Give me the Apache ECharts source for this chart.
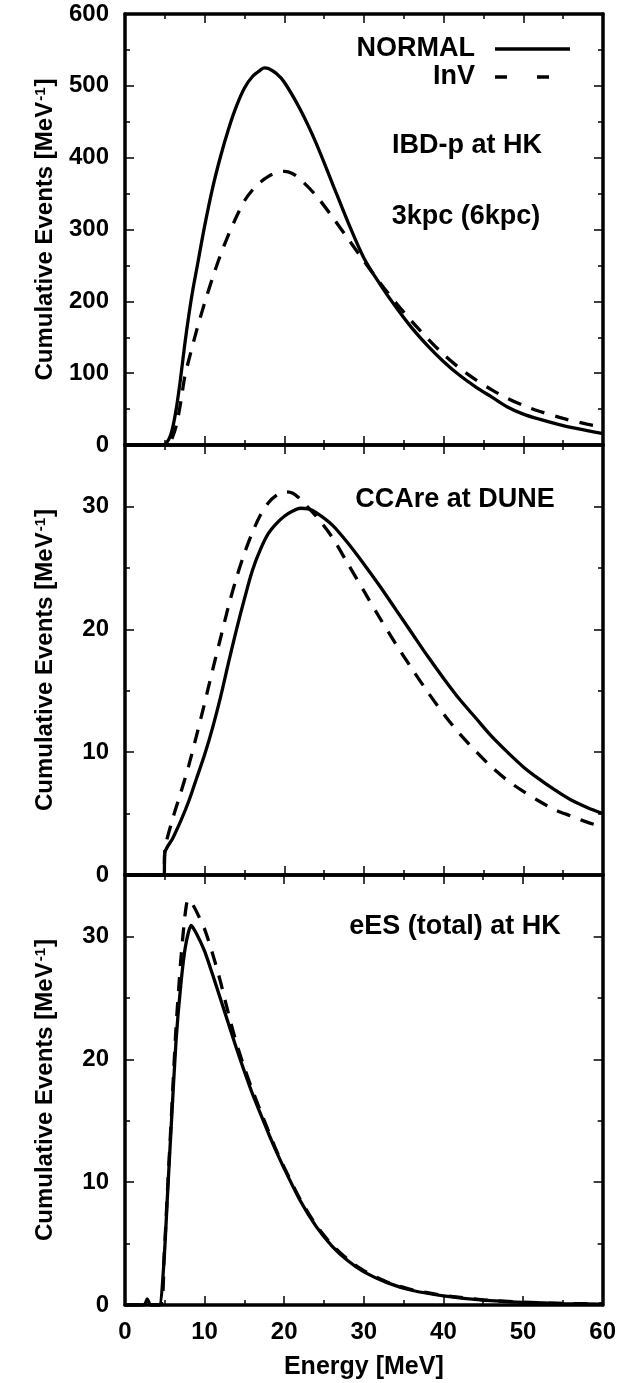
<!DOCTYPE html>
<html><head><meta charset="utf-8">
<script src="https://cdn.jsdelivr.net/npm/echarts@6/dist/echarts.min.js"></script>
<style>html,body{margin:0;padding:0;background:#fff}#c{width:619px;height:1383px}</style>
</head><body><div id="c"></div>
<script>
// ---------- data ----------
const xTicks = [0, 10, 20, 30, 40, 50, 60];

// Panel 1: IBD-p at HK
const ibdNormalE = [0, 4.8, 5.5, 6, 6.5, 7, 7.5, 8, 8.5, 9, 10, 11, 12, 13, 14, 15, 16, 17, 17.5, 18, 19, 20, 22, 24, 26, 28, 30, 32, 34, 36, 38, 40, 42, 44, 46, 48, 50, 52, 55, 58, 60];
const ibdNormalV = [0, 0, 8, 25, 55, 95, 140, 180, 215, 245, 305, 358, 402, 440, 472, 497, 513, 522, 525, 524, 517, 505, 467, 420, 365, 310, 260, 224, 192, 163, 138, 116, 97, 81, 67, 53, 43, 36, 27, 20, 16];
const ibdInvE = [0, 5.3, 6, 6.5, 7, 7.5, 8, 9, 10, 11, 12, 13, 14, 15, 16, 17, 18, 19, 20, 21, 22, 24, 26, 28, 30, 32, 34, 36, 38, 40, 42, 44, 46, 48, 50, 52, 55, 58, 60];
const ibdInvV = [0, 0, 12, 30, 60, 95, 118, 160, 198, 233, 265, 293, 318, 340, 355, 366, 374, 379, 381, 378, 370, 347, 318, 287, 256, 226, 198, 172, 148, 126, 107, 91, 77, 65, 55, 47, 37, 29, 25];

// Panel 2: CCAre at DUNE
const ccNormalE = [0, 4.9, 5.0, 6, 7, 8, 9, 10, 11, 12, 13, 14, 15, 16, 17, 18, 19, 20, 21, 22, 23, 24, 26, 28, 30, 32, 34, 36, 38, 40, 42, 44, 46, 48, 50, 52, 54, 56, 58, 60];
const ccNormalV = [0, 0, 1.8, 3.0, 4.4, 6.0, 7.9, 9.8, 12.0, 14.5, 17.3, 20.0, 22.5, 24.8, 26.5, 27.8, 28.6, 29.2, 29.6, 29.85, 29.8, 29.5, 28.5, 27.0, 25.3, 23.5, 21.6, 19.7, 17.8, 16.0, 14.3, 12.8, 11.3, 10.0, 8.8, 7.8, 6.9, 6.1, 5.5, 5.0];
const ccInvE = [0, 4.9, 5.0, 6, 7, 8, 9, 10, 11, 12, 13, 14, 15, 16, 17, 18, 19, 20, 21, 22, 23, 24, 26, 28, 30, 32, 34, 36, 38, 40, 42, 44, 46, 48, 50, 52, 54, 56, 58, 60];
const ccInvV = [0, 0, 2.0, 4.6, 6.7, 8.9, 11.4, 14.0, 16.7, 19.3, 21.9, 24.2, 26.2, 27.9, 29.3, 30.3, 30.9, 31.2, 31.1, 30.6, 29.9, 29.2, 27.5, 25.3, 23.1, 20.9, 18.8, 16.8, 14.9, 13.1, 11.5, 10.1, 8.8, 7.7, 6.8, 6.0, 5.3, 4.8, 4.3, 3.9];

// Panel 3: eES (total) at HK
const esNormalE = [0, 2.4, 2.8, 3.2, 4.3, 4.9, 5.35, 5.8, 6.4, 7.0, 7.6, 8.3, 9, 10, 11, 12, 13, 14, 15, 16, 17, 18, 19, 20, 22, 24, 26, 28, 30, 33, 36, 40, 45, 50, 55, 60];
const esNormalV = [0, 0, 0.5, 0, 0, 3.6, 9.1, 14.5, 21.4, 26.0, 29.2, 30.9, 30.2, 28.8, 26.9, 24.9, 22.9, 20.9, 19.0, 17.2, 15.6, 14.0, 12.5, 11.1, 8.5, 6.4, 4.8, 3.6, 2.7, 1.8, 1.2, 0.75, 0.4, 0.22, 0.12, 0.07];
const esInvE = [0, 4.4, 4.9, 5.35, 5.8, 6.4, 7.0, 7.5, 7.9, 8.4, 9, 10, 11, 12, 13, 14, 15, 16, 17, 18, 19, 20, 22, 24, 26, 28, 30, 33, 36, 40, 45, 50, 55, 60];
const esInvV = [0, 0, 3.8, 9.5, 15.0, 22.5, 28.0, 31.5, 33.0, 32.7, 32.0, 30.6, 28.6, 26.3, 23.7, 21.3, 19.3, 17.5, 15.8, 14.2, 12.6, 11.2, 8.6, 6.5, 4.9, 3.7, 2.8, 1.85, 1.25, 0.78, 0.42, 0.23, 0.13, 0.08];

const panelLabels = ['IBD-p at HK', '3kpc (6kpc)', 'CCAre at DUNE', 'eES (total) at HK'];
const seriesNames = ['NORMAL', 'InV'];
const yMax = [600, 35, 35];
const yStep = [100, 10, 10];

// ---------- chart ----------
const F = '"Liberation Sans", Arial, Helvetica, sans-serif';
const zip = (e, v) => e.map((x, i) => [x, v[i]]);
const grids = [
  {left: 125, width: 478, top: 14, height: 431},
  {left: 125, width: 478, top: 445, height: 430},
  {left: 125, width: 478, top: 875, height: 430}
];
const lineAx = {show: true, onZero: false, lineStyle: {color: '#000', width: 3.5}};
const tickAx = {show: true, inside: true, length: 9, lineStyle: {color: '#000', width: 1.5}};
const minorAx = {show: true, splitNumber: 2, length: 5, lineStyle: {color: '#000', width: 1.5}};
const xAxis = [], yAxis = [];
for (let g = 0; g < 3; g++) {
  ['bottom', 'top'].forEach((pos, k) => {
    const ax = {
      type: 'value', gridIndex: g, position: pos, min: xTicks[0], max: xTicks[xTicks.length - 1], interval: xTicks[1] - xTicks[0],
      axisLine: lineAx, axisTick: tickAx, minorTick: minorAx, splitLine: {show: false},
      axisLabel: {show: g === 2 && k === 0, margin: 15, color: '#000', fontSize: 24, fontWeight: 'bold', fontFamily: F}
    };
    if (g === 2 && k === 0) {
      ax.name = 'Energy [MeV]'; ax.nameLocation = 'middle'; ax.nameGap = 50;
      ax.nameTextStyle = {color: '#000', fontSize: 25, fontWeight: 'bold', fontFamily: F};
    }
    xAxis.push(ax);
  });
  ['left', 'right'].forEach((pos, k) => {
    const ax = {
      type: 'value', gridIndex: g, position: pos, min: 0, max: yMax[g], interval: yStep[g],
      axisLine: lineAx, axisTick: tickAx, minorTick: minorAx, splitLine: {show: false},
      axisLabel: {show: k === 0, margin: 16, showMaxLabel: g === 0, color: '#000', fontSize: 24, fontWeight: 'bold', fontFamily: F}
    };
    if (k === 0) {
      ax.name = '{a|Cumulative Events [MeV}{s|-1}{a|]}';
      ax.nameLocation = 'middle'; ax.nameGap = 68; ax.nameRotate = 90;
      ax.nameTextStyle = {rich: {
        a: {fontSize: 24, fontWeight: 'bold', fontFamily: F, color: '#000'},
        s: {fontSize: 15, fontWeight: 'bold', fontFamily: F, color: '#000', verticalAlign: 'top', padding: [0, 1, 0, 1]}
      }};
    }
    yAxis.push(ax);
  });
}
const pairs = [[ibdNormalE, ibdNormalV, ibdInvE, ibdInvV], [ccNormalE, ccNormalV, ccInvE, ccInvV], [esNormalE, esNormalV, esInvE, esInvV]];
const series = [];
pairs.forEach((p, g) => {
  series.push({type: 'line', name: seriesNames[0], xAxisIndex: 2 * g, yAxisIndex: 2 * g, data: zip(p[0], p[1]),
    symbol: 'none', smooth: g === 2 ? 0.2 : 0.3, lineStyle: {color: '#000', width: 3.3}, z: 3});
  series.push({type: 'line', name: seriesNames[1], xAxisIndex: 2 * g, yAxisIndex: 2 * g, data: zip(p[2], p[3]),
    symbol: 'none', smooth: g === 2 ? 0.2 : 0.3, lineStyle: {color: '#000', width: 3.3, type: [14, 11]}, z: 2});
});
const txt = (t, x, y, align) => ({type: 'text', x: x, y: y, z: 10,
  style: {text: t, align: align || 'center', verticalAlign: 'middle', fontSize: 27, fontWeight: 'bold', fontFamily: F, fill: '#000'}});
const legendLine = (y, dash) => ({type: 'line', z: 10, shape: {x1: 495, y1: y, x2: dash ? 552 : 570, y2: y},
  style: {stroke: '#000', lineWidth: 3.3, lineDash: dash || null}});
const chart = echarts.init(document.getElementById('c'), null, {renderer: 'canvas'});
chart.setOption({
  animation: false,
  backgroundColor: '#fff',
  grid: grids,
  xAxis: xAxis,
  yAxis: yAxis,
  graphic: [
    txt(seriesNames[0], 475, 49, 'right'),
    legendLine(49, null),
    txt(seriesNames[1], 475, 77, 'right'),
    legendLine(77, [12, 30]),
    txt(panelLabels[0], 467, 146),
    txt(panelLabels[1], 466, 217),
    txt(panelLabels[2], 455, 500),
    txt(panelLabels[3], 455, 927)
  ],
  series: series
});
</script>
</body></html>
